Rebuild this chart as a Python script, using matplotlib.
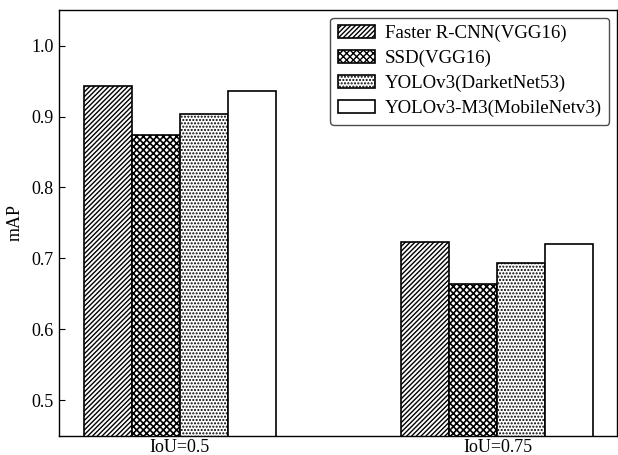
import numpy as np
import matplotlib
matplotlib.use('Agg')
from matplotlib import pyplot as plt

groups = ['IoU=0.5', 'IoU=0.75']
models = ['Faster R-CNN(VGG16)', 'SSD(VGG16)', 'YOLOv3(DarketNet53)', 'YOLOv3-M3(MobileNetv3)']
faster_rcnn = [0.943, 0.723]
ssd = [0.874, 0.664]
yolov3 = [0.904, 0.694]
yolov3_m3 = [0.936, 0.720]

plt.rcParams['font.family'] = ['Liberation Serif', 'DejaVu Serif']
plt.rcParams['hatch.linewidth'] = 1.0

fig = plt.figure(figsize=(6.18, 4.55), dpi=100)
ax = fig.add_axes([0.0955, 0.0418, 0.9029, 0.9362])

x = np.arange(len(groups))
width = 0.151
hatches = ['///////', 'xxxxx', '.....', '']
series = [faster_rcnn, ssd, yolov3, yolov3_m3]

for i, (vals, name, h) in enumerate(zip(series, models, hatches)):
    bars = ax.bar(x + (i - 1.5) * width, vals, width, color='white', edgecolor='black',
                  linewidth=1.2, hatch=h, label=name)
    if h.startswith('x'):
        for b in bars:
            if hasattr(b, 'set_hatch_linewidth'):
                b.set_hatch_linewidth(1.2)

ax.set_ylim(0.45, 1.05)
ax.set_xlim(-0.379, 1.376)
ax.set_yticks([0.5, 0.6, 0.7, 0.8, 0.9, 1.0])
ax.set_xticks(x)
ax.set_xticklabels(groups)
ax.tick_params(axis='y', direction='in', length=4, labelsize=13, pad=4)
ax.tick_params(axis='x', length=0, labelsize=13, pad=2)
ax.set_ylabel('mAP', fontsize=13, labelpad=5)
for s in ax.spines.values():
    s.set_linewidth(1.0)

leg = ax.legend(loc='upper right', fontsize=13.6, frameon=True, fancybox=True,
                framealpha=1, edgecolor='0.3', borderaxespad=0.4,
                labelspacing=0.4, handlelength=2.0, handletextpad=0.5)
leg.get_frame().set_linewidth(1.0)

fig.savefig('out.png', dpi=100)
